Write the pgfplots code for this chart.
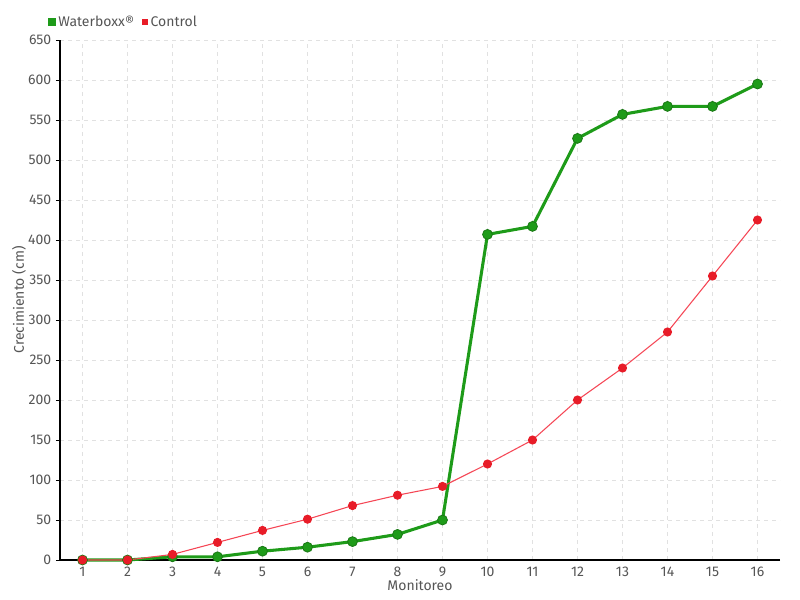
\documentclass[border=0pt]{standalone}
\usepackage{pgfplots}
\pgfplotsset{compat=1.18}
\usepackage{fontspec}
\setmainfont{Fira Sans}
\definecolor{wgreen}{RGB}{30,155,25}
\definecolor{wgreenD}{RGB}{25,120,20}
\definecolor{cred}{RGB}{232,28,40}
\definecolor{credL}{RGB}{245,70,85}
\definecolor{txt}{RGB}{85,85,85}
\definecolor{gridc}{RGB}{225,225,225}
\begin{document}
\begin{tikzpicture}
\begin{axis}[
  at={(0,0)}, anchor=origin,
  scale only axis, width=540pt, height=390pt,
  xmin=0.5, xmax=16.5, ymin=0, ymax=650,
  xtick={1,...,16}, ytick={0,50,...,650},
  axis x line=bottom, axis y line=left,
  axis line style={black, line width=0.9pt, -},
  x tick style={draw=none},
  y tick style={black, line width=0.6pt},
  tick align=outside, major tick length=3pt,
  grid=major,
  major grid style={gridc, dashed, line width=0.6pt},
  tick label style={font=\fontsize{10.5}{12}\selectfont, text=txt},
  xticklabel style={yshift=1pt},
  /pgf/number format/assume math mode=true,
  xlabel={Monitoreo}, ylabel={Crecimiento (cm)},
  label style={font=\fontsize{10.5}{12}\selectfont, text=txt},
  xlabel style={at={(axis description cs:0.5,0)}, anchor=north, yshift=-13.5pt, inner sep=1pt},
  ylabel style={at={(axis description cs:0,0.5)}, anchor=south, yshift=22pt},
  legend style={at={(axis description cs:-0.023,1.012)}, anchor=south west, draw=none, fill=none,
    legend columns=-1, font=\fontsize{10.5}{12}\selectfont, text=txt,
    /tikz/every even column/.append style={column sep=4pt}},
  legend cell align=left,
  clip=false,
]
\addplot[wgreen, line width=2.3pt, mark=*, mark size=3.7pt,
  mark options={fill=wgreen, draw=wgreenD, line width=0.6pt},
  legend image code/.code={\fill[wgreen] (0.1cm,-0.06cm) rectangle (0.23cm,0.07cm);}]
coordinates {(1,0)(2,0)(3,4)(4,4)(5,11)(6,16)(7,23)(8,32)(9,50)(10,407)(11,417)(12,527)(13,557)(14,567)(15,567)(16,595)};
\addlegendentry{Waterboxx®}
\addplot[credL, line width=0.8pt, mark=*, mark size=3pt,
  mark options={fill=cred, draw=cred},
  legend image code/.code={\fill[cred] (0.1cm,-0.06cm) rectangle (0.23cm,0.07cm);}]
coordinates {(1,0)(2,0)(3,7)(4,22)(5,37)(6,51)(7,68)(8,81)(9,92)(10,120)(11,150)(12,200)(13,240)(14,285)(15,355)(16,425)};
\addlegendentry{Control}
\end{axis}
\path[use as bounding box] (-45pt,-30pt) rectangle (555pt,420pt);
\end{tikzpicture}
\end{document}
